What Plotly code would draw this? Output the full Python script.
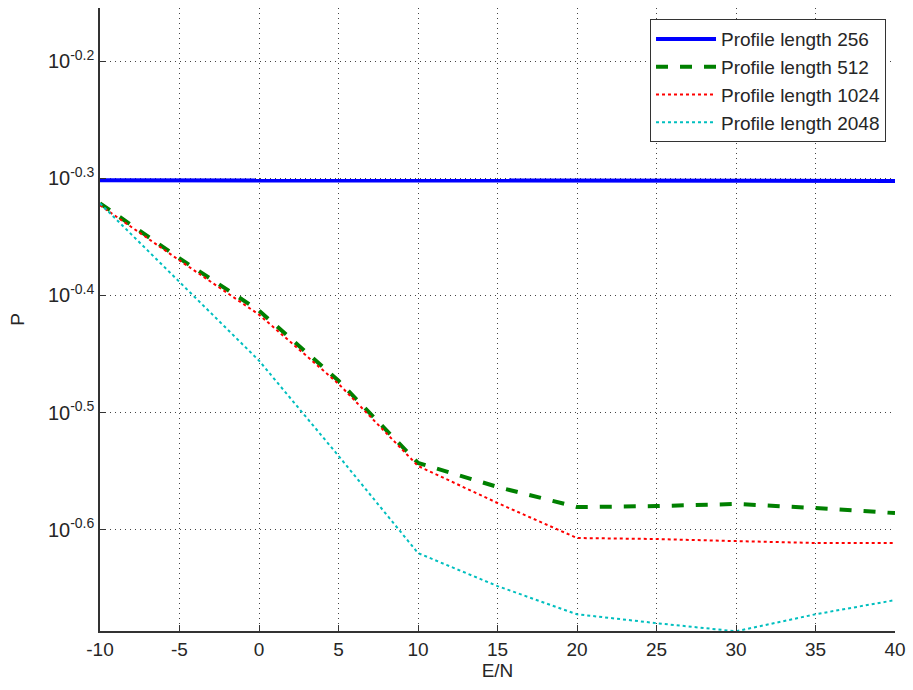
import plotly.graph_objects as go

# E/N sweep (dB) and measured P for each profile length
en_db = [-10, -5, 0, 5, 10, 15, 20, 25, 30, 35, 40]

p_256 = [0.4992, 0.4992, 0.4992, 0.4991, 0.4990, 0.4988, 0.4983, 0.4984, 0.4985, 0.4986, 0.4986]
p_512 = [0.4771, 0.4282, 0.3865, 0.3367, 0.2865, 0.2733, 0.2627, 0.2632, 0.2643, 0.2622, 0.2596]
p_1024 = [0.4753, 0.4265, 0.3834, 0.3347, 0.2848, 0.2648, 0.2472, 0.2467, 0.2457, 0.2448, 0.2448]
p_2048 = [0.4771, 0.4084, 0.3503, 0.2905, 0.2400, 0.2249, 0.2128, 0.2091, 0.2058, 0.2128, 0.2188]

series_names = ["Profile length 256", "Profile length 512",
                "Profile length 1024", "Profile length 2048"]

y_tick_exps = [-0.6, -0.5, -0.4, -0.3, -0.2]
x_ticks = [-10, -5, 0, 5, 10, 15, 20, 25, 30, 35, 40]

font_family = "Liberation Sans, Arial, sans-serif"
text_color = "#262626"
axis_color = "#333333"
grid_color = "#444444"

fig = go.Figure()
fig.add_trace(go.Scatter(x=en_db, y=p_256, mode="lines", name=series_names[0],
                         line=dict(color="#0000ff", width=4)))
fig.add_trace(go.Scatter(x=en_db, y=p_512, mode="lines", name=series_names[1],
                         line=dict(color="#008000", width=4, dash="dash")))
fig.add_trace(go.Scatter(x=en_db, y=p_1024, mode="lines", name=series_names[2],
                         line=dict(color="#ff0000", width=2, dash="dot")))
fig.add_trace(go.Scatter(x=en_db, y=p_2048, mode="lines", name=series_names[3],
                         line=dict(color="#00bfbf", width=2, dash="dot")))

fig.update_layout(
    width=913, height=690,
    margin=dict(l=100, r=18, t=8, b=59),
    paper_bgcolor="white", plot_bgcolor="white",
    font=dict(family=font_family, size=19, color=text_color),
    legend=dict(
        x=0.9887, y=0.982, xanchor="right", yanchor="top",
        bgcolor="white", bordercolor=axis_color, borderwidth=1,
        font=dict(size=19, color=text_color),
        tracegroupgap=0, itemwidth=60,
    ),
    showlegend=True,
)

fig.update_xaxes(
    range=[-10, 40], tickvals=x_ticks,
    ticktext=[str(v) for v in x_ticks],
    showline=True, linecolor=axis_color, linewidth=1.5,
    ticks="inside", ticklen=6, tickcolor=axis_color,
    showgrid=True, gridcolor=grid_color, griddash="1px,4px", gridwidth=1,
    zeroline=False, mirror=False,
    title=dict(text="E/N", font=dict(size=19, color=text_color), standoff=4),
    tickfont=dict(size=19, color=text_color),
)

fig.update_yaxes(
    type="log", range=[-0.6863, -0.1547],
    tickvals=[10 ** e for e in y_tick_exps],
    ticktext=[f"10<sup>{e:.1f}</sup>" for e in y_tick_exps],
    showline=True, linecolor=axis_color, linewidth=1.5,
    ticks="inside", ticklen=6, tickcolor=axis_color,
    showgrid=True, gridcolor=grid_color, griddash="1px,4px", gridwidth=1,
    zeroline=False, mirror=False,
    title=dict(text="P", font=dict(size=19, color=text_color), standoff=18),
    tickfont=dict(size=20, color=text_color),
)

fig.write_html("out.html")
